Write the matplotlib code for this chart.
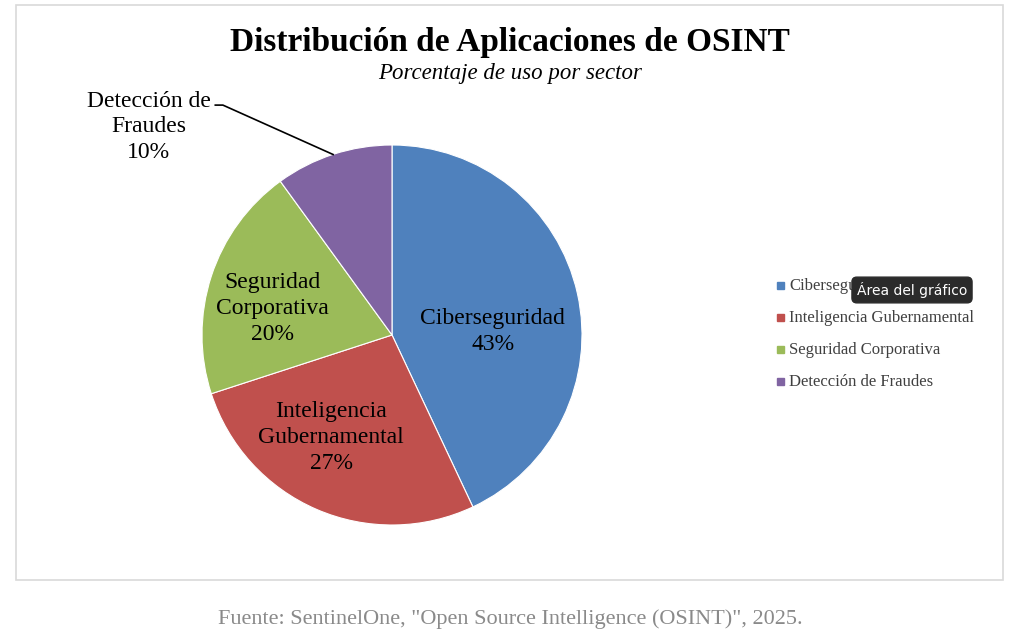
import matplotlib.pyplot as plt
from matplotlib.patches import Rectangle

# data
sectors = ["Ciberseguridad", "Inteligencia Gubernamental", "Seguridad Corporativa", "Detección de Fraudes"]
pct = [43, 27, 20, 10]
colors = ["#4F81BD", "#C0504D", "#9BBB59", "#8064A2"]
# label text inside slices (line breaks as in the chart)
slice_labels = ["Ciberseguridad", "Inteligencia\nGubernamental", "Seguridad\nCorporativa", "Detección de\nFraudes"]
# label positions in pie units (layout)
label_pos = [(0.53, 0.02), (-0.32, -0.54), (-0.63, 0.14), (-1.28, 1.095)]

serif = ["Liberation Serif", "DejaVu Serif"]

fig = plt.figure(figsize=(10.24, 6.39), dpi=100)
fig.patch.set_facecolor("white")

# chart area frame
fig.patches.append(Rectangle((16 / 1024, 1 - 580 / 639), 987 / 1024, 575 / 639,
                             transform=fig.transFigure, fill=False,
                             edgecolor="#d9d9d9", linewidth=1.2))

ax = fig.add_axes([202 / 1024, 1 - 525 / 639, 380 / 1024, 380 / 639])
wedges, _ = ax.pie(pct, colors=colors, startangle=90, counterclock=False,
                   wedgeprops=dict(edgecolor="white", linewidth=0.8))
ax.set_xlim(-1, 1)
ax.set_ylim(-1, 1)
ax.set_aspect("equal")
ax.axis("off")

for lab, p, (x, y) in zip(slice_labels, pct, label_pos):
    ax.text(x, y, f"{lab}\n{p}%", ha="center", va="center", fontsize=17,
            family=serif, color="black", linespacing=1.3, clip_on=False)

# leader line for the small slice
ax.plot([-0.31, -0.89, -0.93], [0.95, 1.21, 1.21], color="black", lw=1.2, clip_on=False)

fig.text(0.498, 1 - 42 / 639, "Distribución de Aplicaciones de OSINT", ha="center", va="center",
         fontsize=24, fontweight="bold", family=serif)
fig.text(0.498, 1 - 74 / 639, "Porcentaje de uso por sector", ha="center", va="center",
         fontsize=16.5, style="italic", family=serif)

# legend
leg_y = [286, 318, 350, 382]
for name, c, y in zip(sectors, colors, leg_y):
    fig.patches.append(Rectangle((777 / 1024, 1 - (y + 3) / 639), 7 / 1024, 7 / 639,
                                 transform=fig.transFigure, color=c))
    fig.text(789 / 1024, 1 - y / 639, name, ha="left", va="center", fontsize=12,
             family=serif, color="#404040")

# tooltip overlay
fig.text(912 / 1024, 1 - 290 / 639, "Área del gráfico", ha="center", va="center",
         fontsize=10, color="white", family="DejaVu Sans",
         bbox=dict(boxstyle="round,pad=0.35", fc="#2b2b2b", ec="#2b2b2b"))

fig.text(0.498, 1 - 619 / 639, 'Fuente: SentinelOne, "Open Source Intelligence (OSINT)", 2025.',
         ha="center", va="center", fontsize=16, family=serif, color="#8a8a8a")

fig.savefig("out.png", dpi=100)
